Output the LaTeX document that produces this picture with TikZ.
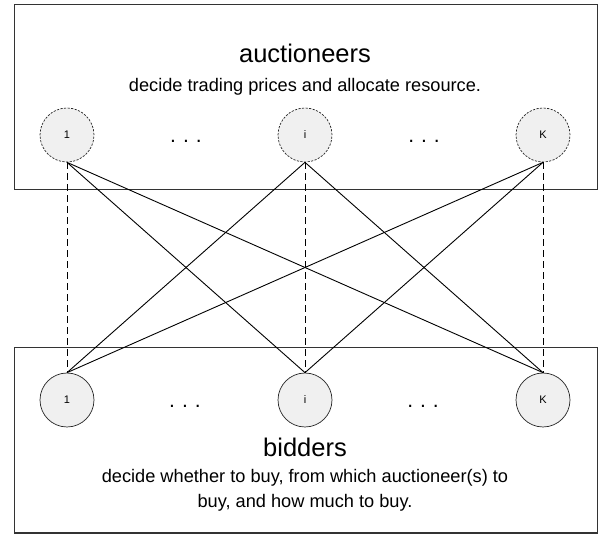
\documentclass[tikz,border=0pt]{standalone}
\usepackage{fontspec}
\setmainfont{Liberation Sans}
\begin{document}
\begin{tikzpicture}[x=1pt,y=-1pt,
  panel/.style={draw=black!80, line width=1.1pt},
  agent/.style={circle, draw=black!85, fill=black!6, minimum size=54pt, inner sep=0pt, line width=0.7pt, font=\fontsize{11}{13}\selectfont},
  auct/.style={agent, dash pattern=on 2.2pt off 1.4pt},
  bid/.style={agent},
  title/.style={anchor=base, inner sep=0pt, font=\fontsize{25.5}{30}\selectfont},
  sub/.style={anchor=base, inner sep=0pt, font=\fontsize{18.2}{22}\selectfont},
  dots/.style={anchor=base, inner sep=0pt, font=\fontsize{21}{24}\selectfont},
  link/.style={draw=black, line width=0.9pt},
  same/.style={draw=black, line width=0.9pt, dash pattern=on 7pt off 4pt}
]
\useasboundingbox (0,0) rectangle (603,534);
% panels
\node[panel, draw, inner sep=0pt, minimum width=582.5pt, minimum height=185pt, anchor=north west] (top) at (14,4) {};
\node[panel, draw, inner sep=0pt, minimum width=582.5pt, minimum height=185.5pt, anchor=north west] (bot) at (14,347) {};
% texts
\node[title] (ta) at (305,63) {auctioneers};
\node[sub] (tb) at (305,92) {decide trading prices and allocate resource.};
\node[title] (ba) at (305,457) {bidders};
\node[sub] (bb) at (305,482.5) {decide whether to buy, from which auctioneer(s) to};
\node[sub] (bc) at (305,507.5) {buy, and how much to buy.};
% auctioneer circles
\node[auct] (a1) at (67,135) {1};
\node[auct] (ai) at (305,135) {i};
\node[auct] (aK) at (543,135) {K};
% bidder circles
\node[bid] (b1) at (67,400) {1};
\node[bid] (bi) at (305,400) {i};
\node[bid] (bK) at (543,400) {K};
% dots
\node[dots] (d1) at (186,143) {.\,\,.\,\,.};
\node[dots] (d2) at (424,143) {.\,\,.\,\,.};
\node[dots] (d3) at (185,408) {.\,\,.\,\,.};
\node[dots] (d4) at (423,408) {.\,\,.\,\,.};
% connectors
\draw[same] (a1.south) -- (b1.north);
\draw[same] (ai.south) -- (bi.north);
\draw[same] (aK.south) -- (bK.north);
\draw[link] (a1.south) -- (bi.north);
\draw[link] (a1.south) -- (bK.north);
\draw[link] (ai.south) -- (b1.north);
\draw[link] (ai.south) -- (bK.north);
\draw[link] (aK.south) -- (b1.north);
\draw[link] (aK.south) -- (bi.north);
\end{tikzpicture}
\end{document}
